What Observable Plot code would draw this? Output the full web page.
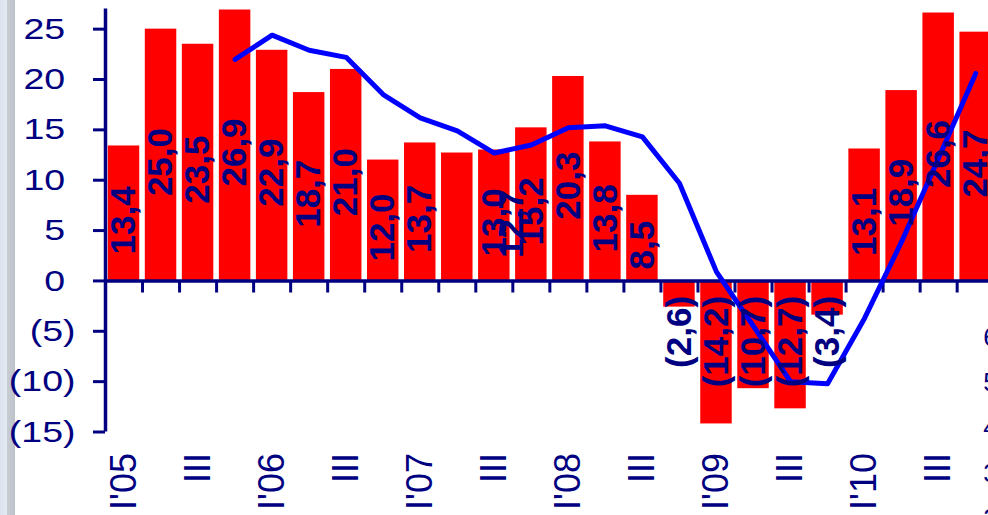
<!DOCTYPE html>
<html><head><meta charset="utf-8">
<script src="https://cdn.jsdelivr.net/npm/d3@7"></script>
<script src="https://cdn.jsdelivr.net/npm/@observablehq/plot@0.6"></script>
<style>
html,body{margin:0;padding:0;background:#fff;}
#wrap{position:relative;width:988px;height:515px;overflow:hidden;
 background: linear-gradient(to right, #dce4ee 0, #e3e9f1 7px, #c8cdd3 7px, #bcc2c9 15px, #ffffff 15px);}
#wrap svg{position:absolute;left:0;top:0;}
</style></head><body><div id="wrap"></div>
<script>
// Quarterly data, Q1 2005 .. Q4 2010
const quarters = ["I'05","II'05","III'05","IV'05","I'06","II'06","III'06","IV'06",
  "I'07","II'07","III'07","IV'07","I'08","II'08","III'08","IV'08",
  "I'09","II'09","III'09","IV'09","I'10","II'10","III'10","IV'10"];
const growth = [13.4,25.0,23.5,26.9,22.9,18.7,21.0,12.0,13.7,12.7,13.0,15.2,
  20.3,13.8,8.5,-2.6,-14.2,-10.7,-12.7,-3.4,13.1,18.9,26.6,24.7];
const trend = [null,null,null,22.0,24.4,22.9,22.2,18.5,16.2,14.9,12.7,13.5,
  15.2,15.4,14.3,9.7,0.9,-4.5,-10.0,-10.2,-3.7,3.9,12.2,20.6];
const xTickLabels = ["I'05","III","I'06","III","I'07","III","I'08","III","I'09","III","I'10","III"];
const yTicks = [-15,-10,-5,0,5,10,15,20,25];
const rightLabels = ["6","5","4","3","2"];

const NAVY = "#000080";
const rows = growth.map((v, i) => ({i, q: quarters[i], v, t: trend[i]}));
const fmt = v => v < 0 ? `(${(-v).toFixed(1).replace(".", ",")})` : v.toFixed(1).replace(".", ",");

const svg = Plot.plot({
  width: 988, height: 515,
  marginLeft: 105, marginRight: 0, marginTop: 8.5, marginBottom: 83.5,
  x: {type: "linear", domain: [0, 24], range: [105, 993.7], axis: null},
  y: {domain: [-15, 27], range: [431.5, 8.5]},
  style: {background: "transparent", color: NAVY, fontFamily: "'Liberation Sans', Arial, sans-serif", overflow: "visible"},
  marks: [
    Plot.rect(rows, {x1: d => d.i + 0.075, x2: d => d.i + 0.925, y1: 0, y2: "v", fill: "#ff0000"}),
    Plot.ruleY([0], {stroke: NAVY, strokeWidth: 3.5}),
    Plot.ruleX([0], {y1: -15, y2: 27, stroke: NAVY, strokeWidth: 3.5}),
    Plot.ruleX(d3.range(1, 25), {y1: 0, y2: -1.2, stroke: NAVY, strokeWidth: 3}),
    Plot.axisY(yTicks, {tickSize: 12, tickPadding: 18, strokeWidth: 3, fontSize: 30,
      tickFormat: d => d < 0 ? `(${-d})` : `${d}\u00a0`}),
    Plot.line(rows.filter(d => d.t != null), {x: d => d.i + 0.5, y: "t", stroke: "#0000ff",
      strokeWidth: 5, strokeLinejoin: "round", strokeLinecap: "round"}),
    Plot.text(rows.filter(d => d.v > 0), {x: d => d.i + 0.5 + (d.i === 9 ? 1.48 : 0), y: d => d.v / 2,
      text: d => fmt(d.v), rotate: -90, dy: 7, fontSize: 35, fontWeight: "bold", fill: NAVY}),
    Plot.text(rows.filter(d => d.v < 0), {x: d => d.i + 0.5, y: 0, dy: 15, text: d => fmt(d.v),
      rotate: -90, textAnchor: "end", fontSize: 35, fontWeight: "bold", fill: NAVY}),
    Plot.text(xTickLabels, {x: (d, k) => 2 * k + 0.5, y: -15, dy: 21, text: d => d,
      rotate: -90, textAnchor: "end", fontSize: 36, fill: NAVY}),
    Plot.text(rightLabels, {x: 24, dx: -11, y: (d, k) => -5.6 - 4.5 * k, text: d => d,
      textAnchor: "start", fontSize: 26, fill: NAVY})
  ]
});

d3.select(svg).selectAll('g[aria-label="y-axis tick label"] text').each(function () {
  const t = this.getAttribute("transform");
  if (t) this.setAttribute("transform", t + " scale(1.25,1)");
  else {
    const x = +this.getAttribute("x") || 0, y = +this.getAttribute("y") || 0;
    this.setAttribute("transform", `translate(${x},${y}) scale(1.25,1) translate(${-x},${-y})`);
  }
});
document.getElementById("wrap").appendChild(svg);
</script></body></html>
